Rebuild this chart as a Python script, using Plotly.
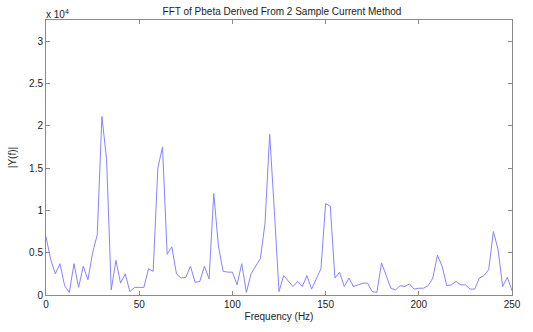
import plotly.graph_objects as go

# Frequency bins (Hz), 2.5 Hz spacing from 0 to 250
freq_hz = [2.5 * i for i in range(101)]

# |Y(f)| in units of 1e4
magnitude_e4 = [
    0.69, 0.42, 0.25, 0.37, 0.11, 0.03, 0.37, 0.09, 0.34, 0.18,
    0.50, 0.71, 2.11, 1.60, 0.06, 0.41, 0.14, 0.25, 0.04, 0.09,
    0.09, 0.09, 0.31, 0.28, 1.50, 1.75, 0.48, 0.57, 0.25, 0.20,
    0.21, 0.34, 0.15, 0.16, 0.34, 0.19, 1.20, 0.58, 0.28, 0.27,
    0.27, 0.12, 0.37, 0.03, 0.25, 0.34, 0.43, 0.85, 1.90, 1.00,
    0.04, 0.23, 0.17, 0.10, 0.16, 0.10, 0.23, 0.07, 0.19, 0.31,
    1.08, 1.05, 0.20, 0.27, 0.10, 0.20, 0.10, 0.12, 0.14, 0.14,
    0.04, 0.03, 0.38, 0.23, 0.08, 0.06, 0.11, 0.10, 0.13, 0.07,
    0.08, 0.08, 0.11, 0.20, 0.47, 0.34, 0.11, 0.12, 0.16, 0.12,
    0.12, 0.07, 0.07, 0.20, 0.23, 0.30, 0.75, 0.54, 0.10, 0.21,
    0.05,
]
magnitude = [v * 1e4 for v in magnitude_e4]

x_ticks = [0, 50, 100, 150, 200, 250]
y_tick_vals = [0, 5000, 10000, 15000, 20000, 25000, 30000]
y_tick_text = ["0", "0.5", "1", "1.5", "2", "2.5", "3"]

FONT = "Liberation Sans, Arial, sans-serif"

fig = go.Figure()
fig.add_trace(go.Scatter(
    x=freq_hz, y=magnitude, mode="lines",
    line=dict(color="#8585ff", width=1),
    hoverinfo="x+y",
))

axis_common = dict(
    showgrid=False, zeroline=False,
    showline=True, linecolor="#8a8a8a", linewidth=1, mirror="ticks",
    ticks="inside", ticklen=4, tickcolor="#8a8a8a", tickwidth=1,
    tickfont=dict(family=FONT, size=10, color="#222"),
)

fig.update_layout(
    width=533, height=332,
    margin=dict(l=44, r=13, t=20, b=32),
    paper_bgcolor="white", plot_bgcolor="white",
    showlegend=False,
    title=dict(
        text="FFT of Pbeta Derived From 2 Sample Current Method",
        x=0.529, xanchor="center", y=0.964, yanchor="middle",
        font=dict(family=FONT, size=10, color="#222"),
    ),
    xaxis=dict(
        range=[0, 250], tickvals=x_ticks,
        title=dict(text="Frequency (Hz)", standoff=3,
                   font=dict(family=FONT, size=10, color="#222")),
        **axis_common,
    ),
    yaxis=dict(
        range=[0, 32500], tickvals=y_tick_vals, ticktext=y_tick_text,
        title=dict(text="|Y(f)|", standoff=10,
                   font=dict(family=FONT, size=10, color="#222")),
        **axis_common,
    ),
    annotations=[dict(
        text="x 10<sup>4</sup>", xref="paper", yref="paper",
        x=0, y=1, xanchor="left", yanchor="bottom", showarrow=False,
        xshift=-2, yshift=-2,
        font=dict(family=FONT, size=10, color="#222"),
    )],
)

fig.write_html("out.html")
